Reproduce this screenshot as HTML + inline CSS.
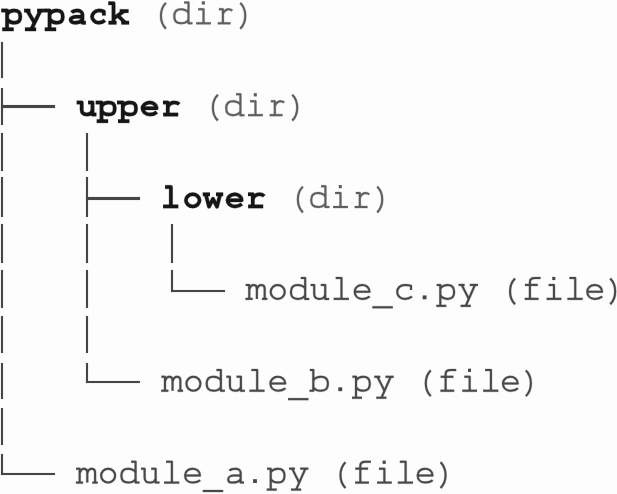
<!DOCTYPE html>
<html><head><meta charset="utf-8"><style>
html,body{margin:0;padding:0;background:#fdfdfd;width:617px;height:494px;overflow:hidden;position:relative}
.r{position:absolute;box-shadow:0 0 1px rgba(64,64,70,0.5)}
svg{position:absolute;left:0;top:0}
.txt{position:absolute;left:0;top:-8px;margin:0;font-family:"Liberation Mono",monospace;font-size:35.42px;line-height:45.93px;color:transparent;white-space:pre}
</style></head><body>
<pre class="txt">pypack (dir)
│
├── upper (dir)
│   │
│   ├── lower (dir)
│   │   │
│   │   └── module_c.py (file)
│   │
│   └── module_b.py (file)
│
└── module_a.py (file)</pre>
<div class="r" style="left:0.80px;top:41.50px;width:2.60px;height:36.70px;background:#46464a"></div>
<div class="r" style="left:0.80px;top:88.20px;width:2.60px;height:36.60px;background:#46464a"></div>
<div class="r" style="left:0.80px;top:105.25px;width:54.00px;height:2.30px;background:#46464a"></div>
<div class="r" style="left:0.80px;top:132.50px;width:2.60px;height:38.10px;background:#46464a"></div>
<div class="r" style="left:0.80px;top:177.40px;width:2.60px;height:39.20px;background:#46464a"></div>
<div class="r" style="left:0.80px;top:224.20px;width:2.60px;height:39.10px;background:#46464a"></div>
<div class="r" style="left:0.80px;top:270.20px;width:2.60px;height:38.10px;background:#46464a"></div>
<div class="r" style="left:0.80px;top:316.40px;width:2.60px;height:36.80px;background:#46464a"></div>
<div class="r" style="left:0.80px;top:362.70px;width:2.60px;height:36.30px;background:#46464a"></div>
<div class="r" style="left:0.80px;top:408.40px;width:2.60px;height:36.30px;background:#46464a"></div>
<div class="r" style="left:0.80px;top:454.20px;width:2.60px;height:21.05px;background:#46464a"></div>
<div class="r" style="left:0.80px;top:472.95px;width:54.00px;height:2.30px;background:#46464a"></div>
<div class="r" style="left:85.60px;top:132.50px;width:2.60px;height:38.10px;background:#46464a"></div>
<div class="r" style="left:85.60px;top:177.40px;width:2.60px;height:39.20px;background:#46464a"></div>
<div class="r" style="left:85.60px;top:197.35px;width:54.00px;height:2.30px;background:#46464a"></div>
<div class="r" style="left:85.60px;top:224.20px;width:2.60px;height:39.10px;background:#46464a"></div>
<div class="r" style="left:85.60px;top:270.20px;width:2.60px;height:38.10px;background:#46464a"></div>
<div class="r" style="left:85.60px;top:316.40px;width:2.60px;height:36.80px;background:#46464a"></div>
<div class="r" style="left:85.60px;top:362.70px;width:2.60px;height:20.35px;background:#46464a"></div>
<div class="r" style="left:85.60px;top:380.75px;width:54.00px;height:2.30px;background:#46464a"></div>
<div class="r" style="left:170.60px;top:224.20px;width:2.60px;height:39.10px;background:#46464a"></div>
<div class="r" style="left:170.60px;top:270.20px;width:2.60px;height:21.65px;background:#46464a"></div>
<div class="r" style="left:170.60px;top:289.55px;width:54.00px;height:2.30px;background:#46464a"></div>
<svg width="617" height="494" viewBox="0 0 617 494" fill="none" stroke-linecap="butt" stroke-linejoin="round">
<g transform="translate(1.68 24.50)" stroke="#161616" stroke-width="4.50" stroke-opacity="0.28" fill-opacity="0.28"><path d="M -0.4 -13.90 H 5.40 V 4.80"/><path d="M 0.60 4.80 H 12.00"/><path d="M 5.40 -10.70 C 7.60 -13.30 10.50 -13.90 12.30 -13.90 C 16.80 -13.90 18.60 -12.35 18.60 -7.85 C 18.60 -3.35 16.80 -1.80 12.30 -1.80 C 10.50 -1.80 7.60 -2.40 5.40 -5.00"/></g>
<g transform="translate(1.68 24.50)" stroke="#161616" stroke-width="3.5"><path d="M -0.4 -13.90 H 5.40 V 4.80"/><path d="M 0.60 4.80 H 12.00"/><path d="M 5.40 -10.70 C 7.60 -13.30 10.50 -13.90 12.30 -13.90 C 16.80 -13.90 18.60 -12.35 18.60 -7.85 C 18.60 -3.35 16.80 -1.80 12.30 -1.80 C 10.50 -1.80 7.60 -2.40 5.40 -5.00"/></g>
<g transform="translate(22.93 24.50)" stroke="#161616" stroke-width="4.50" stroke-opacity="0.28" fill-opacity="0.28"><path d="M 1.2 -13.90 H 7.4"/><path d="M 14.2 -13.90 H 20.9"/><path d="M 4.4 -13.90 L 11.8 -1.40"/><path d="M 17.6 -13.90 L 8.4 4.80"/><path d="M 2.0 4.80 H 13.2"/></g>
<g transform="translate(22.93 24.50)" stroke="#161616" stroke-width="3.5"><path d="M 1.2 -13.90 H 7.4"/><path d="M 14.2 -13.90 H 20.9"/><path d="M 4.4 -13.90 L 11.8 -1.40"/><path d="M 17.6 -13.90 L 8.4 4.80"/><path d="M 2.0 4.80 H 13.2"/></g>
<g transform="translate(44.17 24.50)" stroke="#161616" stroke-width="4.50" stroke-opacity="0.28" fill-opacity="0.28"><path d="M -0.4 -13.90 H 5.40 V 4.80"/><path d="M 0.60 4.80 H 12.00"/><path d="M 5.40 -10.70 C 7.60 -13.30 10.50 -13.90 12.30 -13.90 C 16.80 -13.90 18.60 -12.35 18.60 -7.85 C 18.60 -3.35 16.80 -1.80 12.30 -1.80 C 10.50 -1.80 7.60 -2.40 5.40 -5.00"/></g>
<g transform="translate(44.17 24.50)" stroke="#161616" stroke-width="3.5"><path d="M -0.4 -13.90 H 5.40 V 4.80"/><path d="M 0.60 4.80 H 12.00"/><path d="M 5.40 -10.70 C 7.60 -13.30 10.50 -13.90 12.30 -13.90 C 16.80 -13.90 18.60 -12.35 18.60 -7.85 C 18.60 -3.35 16.80 -1.80 12.30 -1.80 C 10.50 -1.80 7.60 -2.40 5.40 -5.00"/></g>
<g transform="translate(65.42 24.50)" stroke="#161616" stroke-width="4.50" stroke-opacity="0.28" fill-opacity="0.28"><path d="M 6.40 -11.90 C 7.80 -13.60 9.80 -13.90 11.90 -13.90 C 14.60 -13.90 17.00 -12.30 17.00 -9.90 V -1.80 H 20.40"/><path d="M 17.00 -7.80 H 10.20 C 6.80 -7.80 5.20 -5.60 5.20 -5.00 C 5.20 -2.80 7.20 -1.80 9.80 -1.80 C 12.80 -1.80 15.60 -3.20 17.00 -4.60"/></g>
<g transform="translate(65.42 24.50)" stroke="#161616" stroke-width="3.5"><path d="M 6.40 -11.90 C 7.80 -13.60 9.80 -13.90 11.90 -13.90 C 14.60 -13.90 17.00 -12.30 17.00 -9.90 V -1.80 H 20.40"/><path d="M 17.00 -7.80 H 10.20 C 6.80 -7.80 5.20 -5.60 5.20 -5.00 C 5.20 -2.80 7.20 -1.80 9.80 -1.80 C 12.80 -1.80 15.60 -3.20 17.00 -4.60"/></g>
<g transform="translate(86.67 24.50)" stroke="#161616" stroke-width="4.50" stroke-opacity="0.28" fill-opacity="0.28"><path d="M 17.20 -8.90 V -12.90 C 15.60 -13.70 13.80 -13.90 12.00 -13.90 C 8.20 -13.90 5.40 -10.50 5.40 -7.85 C 5.40 -5.20 8.20 -1.80 12.00 -1.80 C 15.00 -1.80 16.80 -3.00 18.20 -4.20"/></g>
<g transform="translate(86.67 24.50)" stroke="#161616" stroke-width="3.5"><path d="M 17.20 -8.90 V -12.90 C 15.60 -13.70 13.80 -13.90 12.00 -13.90 C 8.20 -13.90 5.40 -10.50 5.40 -7.85 C 5.40 -5.20 8.20 -1.80 12.00 -1.80 C 15.00 -1.80 16.80 -3.00 18.20 -4.20"/></g>
<g transform="translate(107.92 24.50)" stroke="#161616" stroke-width="4.50" stroke-opacity="0.28" fill-opacity="0.28"><path d="M 0.4 -21.20 H 5.60 V -1.80"/><path d="M 0.6 -1.80 H 8.60"/><path d="M 5.60 -6.00 L 16.00 -13.40"/><path d="M 11.8 -13.40 H 20.6"/><path d="M 10.40 -8.60 L 17.2 -1.80"/><path d="M 13.4 -1.80 H 21.2"/></g>
<g transform="translate(107.92 24.50)" stroke="#161616" stroke-width="3.5"><path d="M 0.4 -21.20 H 5.60 V -1.80"/><path d="M 0.6 -1.80 H 8.60"/><path d="M 5.60 -6.00 L 16.00 -13.40"/><path d="M 11.8 -13.40 H 20.6"/><path d="M 10.40 -8.60 L 17.2 -1.80"/><path d="M 13.4 -1.80 H 21.2"/></g>
<g transform="translate(150.43 24.50)" stroke="#5e5e5e" stroke-width="3.00" stroke-opacity="0.28" fill-opacity="0.28"><path d="M 15.50 -21.6 C 11.00 -17.2 10.50 -11.9 10.50 -8.7 C 10.50 -5.5 11.00 -0.2 15.50 4.2"/></g>
<g transform="translate(150.43 24.50)" stroke="#5e5e5e" stroke-width="2.0"><path d="M 15.50 -21.6 C 11.00 -17.2 10.50 -11.9 10.50 -8.7 C 10.50 -5.5 11.00 -0.2 15.50 4.2"/></g>
<g transform="translate(171.68 24.50)" stroke="#5e5e5e" stroke-width="3.00" stroke-opacity="0.28" fill-opacity="0.28"><path d="M 12.40 -22.00 H 16.80 V -1.20 H 20.80"/><path d="M 16.80 -11.95 C 14.60 -14.55 11.20 -15.15 9.40 -15.15 C 4.40 -15.15 2.60 -12.68 2.60 -8.18 C 2.60 -3.68 4.40 -1.20 9.40 -1.20 C 11.20 -1.20 14.60 -1.80 16.80 -4.40"/></g>
<g transform="translate(171.68 24.50)" stroke="#5e5e5e" stroke-width="2.0"><path d="M 12.40 -22.00 H 16.80 V -1.20 H 20.80"/><path d="M 16.80 -11.95 C 14.60 -14.55 11.20 -15.15 9.40 -15.15 C 4.40 -15.15 2.60 -12.68 2.60 -8.18 C 2.60 -3.68 4.40 -1.20 9.40 -1.20 C 11.20 -1.20 14.60 -1.80 16.80 -4.40"/></g>
<g transform="translate(192.93 24.50)" stroke="#5e5e5e" stroke-width="3.00" stroke-opacity="0.28" fill-opacity="0.28"><path d="M 5.20 -15.15 H 10.60 V -1.20"/><path d="M 3.20 -1.20 H 18.00"/><path d="M 8.90 -23.20 H 11.90 V -20.00 H 8.90 Z" fill="#5e5e5e" stroke="none"/></g>
<g transform="translate(192.93 24.50)" stroke="#5e5e5e" stroke-width="2.0"><path d="M 5.20 -15.15 H 10.60 V -1.20"/><path d="M 3.20 -1.20 H 18.00"/><path d="M 8.90 -23.20 H 11.90 V -20.00 H 8.90 Z" fill="#5e5e5e" stroke="none"/></g>
<g transform="translate(214.18 24.50)" stroke="#5e5e5e" stroke-width="3.00" stroke-opacity="0.28" fill-opacity="0.28"><path d="M 4.70 -15.15 H 8.70 V -1.20"/><path d="M 3.50 -1.20 H 16.40"/><path d="M 8.70 -10.95 C 10.30 -13.75 12.30 -15.15 14.50 -15.15 C 16.10 -15.15 17.10 -14.65 18.10 -13.75"/></g>
<g transform="translate(214.18 24.50)" stroke="#5e5e5e" stroke-width="2.0"><path d="M 4.70 -15.15 H 8.70 V -1.20"/><path d="M 3.50 -1.20 H 16.40"/><path d="M 8.70 -10.95 C 10.30 -13.75 12.30 -15.15 14.50 -15.15 C 16.10 -15.15 17.10 -14.65 18.10 -13.75"/></g>
<g transform="translate(235.43 24.50)" stroke="#5e5e5e" stroke-width="3.00" stroke-opacity="0.28" fill-opacity="0.28"><path d="M 4.85 -21.6 C 9.35 -17.2 9.85 -11.9 9.85 -8.7 C 9.85 -5.5 9.35 -0.2 4.85 4.2"/></g>
<g transform="translate(235.43 24.50)" stroke="#5e5e5e" stroke-width="2.0"><path d="M 4.85 -21.6 C 9.35 -17.2 9.85 -11.9 9.85 -8.7 C 9.85 -5.5 9.35 -0.2 4.85 4.2"/></g>
<g transform="translate(74.88 116.36)" stroke="#161616" stroke-width="4.50" stroke-opacity="0.28" fill-opacity="0.28"><path d="M 1.80 -13.90 H 6.80 V -6.60 C 6.80 -3.40 8.80 -1.80 12.20 -1.80 C 15.00 -1.80 16.80 -3.20 17.60 -5.40"/><path d="M 13.20 -13.90 H 17.60 V -1.80 H 21.50"/></g>
<g transform="translate(74.88 116.36)" stroke="#161616" stroke-width="3.5"><path d="M 1.80 -13.90 H 6.80 V -6.60 C 6.80 -3.40 8.80 -1.80 12.20 -1.80 C 15.00 -1.80 16.80 -3.20 17.60 -5.40"/><path d="M 13.20 -13.90 H 17.60 V -1.80 H 21.50"/></g>
<g transform="translate(96.12 116.36)" stroke="#161616" stroke-width="4.50" stroke-opacity="0.28" fill-opacity="0.28"><path d="M -0.4 -13.90 H 5.40 V 4.80"/><path d="M 0.60 4.80 H 12.00"/><path d="M 5.40 -10.70 C 7.60 -13.30 10.50 -13.90 12.30 -13.90 C 16.80 -13.90 18.60 -12.35 18.60 -7.85 C 18.60 -3.35 16.80 -1.80 12.30 -1.80 C 10.50 -1.80 7.60 -2.40 5.40 -5.00"/></g>
<g transform="translate(96.12 116.36)" stroke="#161616" stroke-width="3.5"><path d="M -0.4 -13.90 H 5.40 V 4.80"/><path d="M 0.60 4.80 H 12.00"/><path d="M 5.40 -10.70 C 7.60 -13.30 10.50 -13.90 12.30 -13.90 C 16.80 -13.90 18.60 -12.35 18.60 -7.85 C 18.60 -3.35 16.80 -1.80 12.30 -1.80 C 10.50 -1.80 7.60 -2.40 5.40 -5.00"/></g>
<g transform="translate(117.38 116.36)" stroke="#161616" stroke-width="4.50" stroke-opacity="0.28" fill-opacity="0.28"><path d="M -0.4 -13.90 H 5.40 V 4.80"/><path d="M 0.60 4.80 H 12.00"/><path d="M 5.40 -10.70 C 7.60 -13.30 10.50 -13.90 12.30 -13.90 C 16.80 -13.90 18.60 -12.35 18.60 -7.85 C 18.60 -3.35 16.80 -1.80 12.30 -1.80 C 10.50 -1.80 7.60 -2.40 5.40 -5.00"/></g>
<g transform="translate(117.38 116.36)" stroke="#161616" stroke-width="3.5"><path d="M -0.4 -13.90 H 5.40 V 4.80"/><path d="M 0.60 4.80 H 12.00"/><path d="M 5.40 -10.70 C 7.60 -13.30 10.50 -13.90 12.30 -13.90 C 16.80 -13.90 18.60 -12.35 18.60 -7.85 C 18.60 -3.35 16.80 -1.80 12.30 -1.80 C 10.50 -1.80 7.60 -2.40 5.40 -5.00"/></g>
<g transform="translate(138.62 116.36)" stroke="#161616" stroke-width="4.50" stroke-opacity="0.28" fill-opacity="0.28"><path d="M 3.90 -8.00 H 18.00 C 18.00 -11.70 14.45 -13.90 10.95 -13.90 C 6.50 -13.90 3.90 -10.40 3.90 -8.00 C 3.90 -5.00 6.70 -1.80 11.35 -1.80 C 14.55 -1.80 16.80 -3.00 18.20 -4.20"/></g>
<g transform="translate(138.62 116.36)" stroke="#161616" stroke-width="3.5"><path d="M 3.90 -8.00 H 18.00 C 18.00 -11.70 14.45 -13.90 10.95 -13.90 C 6.50 -13.90 3.90 -10.40 3.90 -8.00 C 3.90 -5.00 6.70 -1.80 11.35 -1.80 C 14.55 -1.80 16.80 -3.00 18.20 -4.20"/></g>
<g transform="translate(159.88 116.36)" stroke="#161616" stroke-width="4.50" stroke-opacity="0.28" fill-opacity="0.28"><path d="M 3.10 -13.90 H 7.90 V -1.80"/><path d="M 3.30 -1.80 H 18.30"/><path d="M 7.90 -9.70 C 9.50 -12.50 11.90 -13.90 14.30 -13.90 C 16.50 -13.90 18.10 -13.30 19.30 -12.10"/></g>
<g transform="translate(159.88 116.36)" stroke="#161616" stroke-width="3.5"><path d="M 3.10 -13.90 H 7.90 V -1.80"/><path d="M 3.30 -1.80 H 18.30"/><path d="M 7.90 -9.70 C 9.50 -12.50 11.90 -13.90 14.30 -13.90 C 16.50 -13.90 18.10 -13.30 19.30 -12.10"/></g>
<g transform="translate(202.38 116.36)" stroke="#5e5e5e" stroke-width="3.00" stroke-opacity="0.28" fill-opacity="0.28"><path d="M 15.50 -21.6 C 11.00 -17.2 10.50 -11.9 10.50 -8.7 C 10.50 -5.5 11.00 -0.2 15.50 4.2"/></g>
<g transform="translate(202.38 116.36)" stroke="#5e5e5e" stroke-width="2.0"><path d="M 15.50 -21.6 C 11.00 -17.2 10.50 -11.9 10.50 -8.7 C 10.50 -5.5 11.00 -0.2 15.50 4.2"/></g>
<g transform="translate(223.62 116.36)" stroke="#5e5e5e" stroke-width="3.00" stroke-opacity="0.28" fill-opacity="0.28"><path d="M 12.40 -22.00 H 16.80 V -1.20 H 20.80"/><path d="M 16.80 -11.95 C 14.60 -14.55 11.20 -15.15 9.40 -15.15 C 4.40 -15.15 2.60 -12.68 2.60 -8.18 C 2.60 -3.68 4.40 -1.20 9.40 -1.20 C 11.20 -1.20 14.60 -1.80 16.80 -4.40"/></g>
<g transform="translate(223.62 116.36)" stroke="#5e5e5e" stroke-width="2.0"><path d="M 12.40 -22.00 H 16.80 V -1.20 H 20.80"/><path d="M 16.80 -11.95 C 14.60 -14.55 11.20 -15.15 9.40 -15.15 C 4.40 -15.15 2.60 -12.68 2.60 -8.18 C 2.60 -3.68 4.40 -1.20 9.40 -1.20 C 11.20 -1.20 14.60 -1.80 16.80 -4.40"/></g>
<g transform="translate(244.88 116.36)" stroke="#5e5e5e" stroke-width="3.00" stroke-opacity="0.28" fill-opacity="0.28"><path d="M 5.20 -15.15 H 10.60 V -1.20"/><path d="M 3.20 -1.20 H 18.00"/><path d="M 8.90 -23.20 H 11.90 V -20.00 H 8.90 Z" fill="#5e5e5e" stroke="none"/></g>
<g transform="translate(244.88 116.36)" stroke="#5e5e5e" stroke-width="2.0"><path d="M 5.20 -15.15 H 10.60 V -1.20"/><path d="M 3.20 -1.20 H 18.00"/><path d="M 8.90 -23.20 H 11.90 V -20.00 H 8.90 Z" fill="#5e5e5e" stroke="none"/></g>
<g transform="translate(266.12 116.36)" stroke="#5e5e5e" stroke-width="3.00" stroke-opacity="0.28" fill-opacity="0.28"><path d="M 4.70 -15.15 H 8.70 V -1.20"/><path d="M 3.50 -1.20 H 16.40"/><path d="M 8.70 -10.95 C 10.30 -13.75 12.30 -15.15 14.50 -15.15 C 16.10 -15.15 17.10 -14.65 18.10 -13.75"/></g>
<g transform="translate(266.12 116.36)" stroke="#5e5e5e" stroke-width="2.0"><path d="M 4.70 -15.15 H 8.70 V -1.20"/><path d="M 3.50 -1.20 H 16.40"/><path d="M 8.70 -10.95 C 10.30 -13.75 12.30 -15.15 14.50 -15.15 C 16.10 -15.15 17.10 -14.65 18.10 -13.75"/></g>
<g transform="translate(287.38 116.36)" stroke="#5e5e5e" stroke-width="3.00" stroke-opacity="0.28" fill-opacity="0.28"><path d="M 4.85 -21.6 C 9.35 -17.2 9.85 -11.9 9.85 -8.7 C 9.85 -5.5 9.35 -0.2 4.85 4.2"/></g>
<g transform="translate(287.38 116.36)" stroke="#5e5e5e" stroke-width="2.0"><path d="M 4.85 -21.6 C 9.35 -17.2 9.85 -11.9 9.85 -8.7 C 9.85 -5.5 9.35 -0.2 4.85 4.2"/></g>
<g transform="translate(159.88 208.22)" stroke="#161616" stroke-width="4.50" stroke-opacity="0.28" fill-opacity="0.28"><path d="M 5.20 -21.20 H 11.00 V -1.80"/><path d="M 3.20 -1.80 H 18.40"/></g>
<g transform="translate(159.88 208.22)" stroke="#161616" stroke-width="3.5"><path d="M 5.20 -21.20 H 11.00 V -1.80"/><path d="M 3.20 -1.80 H 18.40"/></g>
<g transform="translate(181.12 208.22)" stroke="#161616" stroke-width="4.50" stroke-opacity="0.28" fill-opacity="0.28"><path d="M 18.40 -7.85 C 18.40 -4.51 15.36 -1.80 11.60 -1.80 C 7.84 -1.80 4.80 -4.51 4.80 -7.85 C 4.80 -11.19 7.84 -13.90 11.60 -13.90 C 15.36 -13.90 18.40 -11.19 18.40 -7.85 Z"/></g>
<g transform="translate(181.12 208.22)" stroke="#161616" stroke-width="3.5"><path d="M 18.40 -7.85 C 18.40 -4.51 15.36 -1.80 11.60 -1.80 C 7.84 -1.80 4.80 -4.51 4.80 -7.85 C 4.80 -11.19 7.84 -13.90 11.60 -13.90 C 15.36 -13.90 18.40 -11.19 18.40 -7.85 Z"/></g>
<g transform="translate(202.38 208.22)" stroke="#161616" stroke-width="4.50" stroke-opacity="0.28" fill-opacity="0.28"><path d="M 0.4 -13.90 H 7.6"/><path d="M 13.6 -13.90 H 20.8"/><path d="M 3.4 -13.90 L 6.6 -1.60 L 10.6 -9.30 L 14.6 -1.60 L 17.8 -13.90"/></g>
<g transform="translate(202.38 208.22)" stroke="#161616" stroke-width="3.5"><path d="M 0.4 -13.90 H 7.6"/><path d="M 13.6 -13.90 H 20.8"/><path d="M 3.4 -13.90 L 6.6 -1.60 L 10.6 -9.30 L 14.6 -1.60 L 17.8 -13.90"/></g>
<g transform="translate(223.62 208.22)" stroke="#161616" stroke-width="4.50" stroke-opacity="0.28" fill-opacity="0.28"><path d="M 3.90 -8.00 H 18.00 C 18.00 -11.70 14.45 -13.90 10.95 -13.90 C 6.50 -13.90 3.90 -10.40 3.90 -8.00 C 3.90 -5.00 6.70 -1.80 11.35 -1.80 C 14.55 -1.80 16.80 -3.00 18.20 -4.20"/></g>
<g transform="translate(223.62 208.22)" stroke="#161616" stroke-width="3.5"><path d="M 3.90 -8.00 H 18.00 C 18.00 -11.70 14.45 -13.90 10.95 -13.90 C 6.50 -13.90 3.90 -10.40 3.90 -8.00 C 3.90 -5.00 6.70 -1.80 11.35 -1.80 C 14.55 -1.80 16.80 -3.00 18.20 -4.20"/></g>
<g transform="translate(244.88 208.22)" stroke="#161616" stroke-width="4.50" stroke-opacity="0.28" fill-opacity="0.28"><path d="M 3.10 -13.90 H 7.90 V -1.80"/><path d="M 3.30 -1.80 H 18.30"/><path d="M 7.90 -9.70 C 9.50 -12.50 11.90 -13.90 14.30 -13.90 C 16.50 -13.90 18.10 -13.30 19.30 -12.10"/></g>
<g transform="translate(244.88 208.22)" stroke="#161616" stroke-width="3.5"><path d="M 3.10 -13.90 H 7.90 V -1.80"/><path d="M 3.30 -1.80 H 18.30"/><path d="M 7.90 -9.70 C 9.50 -12.50 11.90 -13.90 14.30 -13.90 C 16.50 -13.90 18.10 -13.30 19.30 -12.10"/></g>
<g transform="translate(287.38 208.22)" stroke="#5e5e5e" stroke-width="3.00" stroke-opacity="0.28" fill-opacity="0.28"><path d="M 15.50 -21.6 C 11.00 -17.2 10.50 -11.9 10.50 -8.7 C 10.50 -5.5 11.00 -0.2 15.50 4.2"/></g>
<g transform="translate(287.38 208.22)" stroke="#5e5e5e" stroke-width="2.0"><path d="M 15.50 -21.6 C 11.00 -17.2 10.50 -11.9 10.50 -8.7 C 10.50 -5.5 11.00 -0.2 15.50 4.2"/></g>
<g transform="translate(308.62 208.22)" stroke="#5e5e5e" stroke-width="3.00" stroke-opacity="0.28" fill-opacity="0.28"><path d="M 12.40 -22.00 H 16.80 V -1.20 H 20.80"/><path d="M 16.80 -11.95 C 14.60 -14.55 11.20 -15.15 9.40 -15.15 C 4.40 -15.15 2.60 -12.68 2.60 -8.18 C 2.60 -3.68 4.40 -1.20 9.40 -1.20 C 11.20 -1.20 14.60 -1.80 16.80 -4.40"/></g>
<g transform="translate(308.62 208.22)" stroke="#5e5e5e" stroke-width="2.0"><path d="M 12.40 -22.00 H 16.80 V -1.20 H 20.80"/><path d="M 16.80 -11.95 C 14.60 -14.55 11.20 -15.15 9.40 -15.15 C 4.40 -15.15 2.60 -12.68 2.60 -8.18 C 2.60 -3.68 4.40 -1.20 9.40 -1.20 C 11.20 -1.20 14.60 -1.80 16.80 -4.40"/></g>
<g transform="translate(329.88 208.22)" stroke="#5e5e5e" stroke-width="3.00" stroke-opacity="0.28" fill-opacity="0.28"><path d="M 5.20 -15.15 H 10.60 V -1.20"/><path d="M 3.20 -1.20 H 18.00"/><path d="M 8.90 -23.20 H 11.90 V -20.00 H 8.90 Z" fill="#5e5e5e" stroke="none"/></g>
<g transform="translate(329.88 208.22)" stroke="#5e5e5e" stroke-width="2.0"><path d="M 5.20 -15.15 H 10.60 V -1.20"/><path d="M 3.20 -1.20 H 18.00"/><path d="M 8.90 -23.20 H 11.90 V -20.00 H 8.90 Z" fill="#5e5e5e" stroke="none"/></g>
<g transform="translate(351.12 208.22)" stroke="#5e5e5e" stroke-width="3.00" stroke-opacity="0.28" fill-opacity="0.28"><path d="M 4.70 -15.15 H 8.70 V -1.20"/><path d="M 3.50 -1.20 H 16.40"/><path d="M 8.70 -10.95 C 10.30 -13.75 12.30 -15.15 14.50 -15.15 C 16.10 -15.15 17.10 -14.65 18.10 -13.75"/></g>
<g transform="translate(351.12 208.22)" stroke="#5e5e5e" stroke-width="2.0"><path d="M 4.70 -15.15 H 8.70 V -1.20"/><path d="M 3.50 -1.20 H 16.40"/><path d="M 8.70 -10.95 C 10.30 -13.75 12.30 -15.15 14.50 -15.15 C 16.10 -15.15 17.10 -14.65 18.10 -13.75"/></g>
<g transform="translate(372.38 208.22)" stroke="#5e5e5e" stroke-width="3.00" stroke-opacity="0.28" fill-opacity="0.28"><path d="M 4.85 -21.6 C 9.35 -17.2 9.85 -11.9 9.85 -8.7 C 9.85 -5.5 9.35 -0.2 4.85 4.2"/></g>
<g transform="translate(372.38 208.22)" stroke="#5e5e5e" stroke-width="2.0"><path d="M 4.85 -21.6 C 9.35 -17.2 9.85 -11.9 9.85 -8.7 C 9.85 -5.5 9.35 -0.2 4.85 4.2"/></g>
<g transform="translate(245.88 300.08)" stroke="#484848" stroke-width="3.00" stroke-opacity="0.28" fill-opacity="0.28"><path d="M -0.2 -15.15 H 3.40 V -1.20"/><path d="M 3.40 -11.15 C 4.60 -13.95 6.00 -15.15 7.50 -15.15 C 9.70 -15.15 11.00 -13.95 11.00 -11.65 V -1.20"/><path d="M 11.00 -11.15 C 12.20 -13.95 13.60 -15.15 15.20 -15.15 C 17.50 -15.15 18.80 -13.95 18.80 -11.65 V -1.20"/><path d="M -0.4 -1.20 H 6.80"/><path d="M 16.00 -1.20 H 21.50"/></g>
<g transform="translate(245.88 300.08)" stroke="#484848" stroke-width="2.0"><path d="M -0.2 -15.15 H 3.40 V -1.20"/><path d="M 3.40 -11.15 C 4.60 -13.95 6.00 -15.15 7.50 -15.15 C 9.70 -15.15 11.00 -13.95 11.00 -11.65 V -1.20"/><path d="M 11.00 -11.15 C 12.20 -13.95 13.60 -15.15 15.20 -15.15 C 17.50 -15.15 18.80 -13.95 18.80 -11.65 V -1.20"/><path d="M -0.4 -1.20 H 6.80"/><path d="M 16.00 -1.20 H 21.50"/></g>
<g transform="translate(267.12 300.08)" stroke="#484848" stroke-width="3.00" stroke-opacity="0.28" fill-opacity="0.28"><path d="M 17.60 -8.18 C 17.60 -4.32 14.47 -1.20 10.60 -1.20 C 6.73 -1.20 3.60 -4.32 3.60 -8.18 C 3.60 -12.03 6.73 -15.15 10.60 -15.15 C 14.47 -15.15 17.60 -12.03 17.60 -8.18 Z"/></g>
<g transform="translate(267.12 300.08)" stroke="#484848" stroke-width="2.0"><path d="M 17.60 -8.18 C 17.60 -4.32 14.47 -1.20 10.60 -1.20 C 6.73 -1.20 3.60 -4.32 3.60 -8.18 C 3.60 -12.03 6.73 -15.15 10.60 -15.15 C 14.47 -15.15 17.60 -12.03 17.60 -8.18 Z"/></g>
<g transform="translate(288.38 300.08)" stroke="#484848" stroke-width="3.00" stroke-opacity="0.28" fill-opacity="0.28"><path d="M 12.40 -22.00 H 16.80 V -1.20 H 20.80"/><path d="M 16.80 -11.95 C 14.60 -14.55 11.20 -15.15 9.40 -15.15 C 4.40 -15.15 2.60 -12.68 2.60 -8.18 C 2.60 -3.68 4.40 -1.20 9.40 -1.20 C 11.20 -1.20 14.60 -1.80 16.80 -4.40"/></g>
<g transform="translate(288.38 300.08)" stroke="#484848" stroke-width="2.0"><path d="M 12.40 -22.00 H 16.80 V -1.20 H 20.80"/><path d="M 16.80 -11.95 C 14.60 -14.55 11.20 -15.15 9.40 -15.15 C 4.40 -15.15 2.60 -12.68 2.60 -8.18 C 2.60 -3.68 4.40 -1.20 9.40 -1.20 C 11.20 -1.20 14.60 -1.80 16.80 -4.40"/></g>
<g transform="translate(309.62 300.08)" stroke="#484848" stroke-width="3.00" stroke-opacity="0.28" fill-opacity="0.28"><path d="M 1.00 -15.15 H 4.60 V -6.00 C 4.60 -2.80 6.60 -1.20 10.10 -1.20 C 12.90 -1.20 14.80 -2.60 15.60 -4.80"/><path d="M 11.20 -15.15 H 15.60 V -1.20 H 19.50"/></g>
<g transform="translate(309.62 300.08)" stroke="#484848" stroke-width="2.0"><path d="M 1.00 -15.15 H 4.60 V -6.00 C 4.60 -2.80 6.60 -1.20 10.10 -1.20 C 12.90 -1.20 14.80 -2.60 15.60 -4.80"/><path d="M 11.20 -15.15 H 15.60 V -1.20 H 19.50"/></g>
<g transform="translate(330.88 300.08)" stroke="#484848" stroke-width="3.00" stroke-opacity="0.28" fill-opacity="0.28"><path d="M 4.80 -22.00 H 10.60 V -1.20"/><path d="M 2.80 -1.20 H 18.00"/></g>
<g transform="translate(330.88 300.08)" stroke="#484848" stroke-width="2.0"><path d="M 4.80 -22.00 H 10.60 V -1.20"/><path d="M 2.80 -1.20 H 18.00"/></g>
<g transform="translate(352.12 300.08)" stroke="#484848" stroke-width="3.00" stroke-opacity="0.28" fill-opacity="0.28"><path d="M 2.60 -8.40 H 17.40 C 17.40 -12.95 13.50 -15.15 10.00 -15.15 C 5.20 -15.15 2.60 -11.65 2.60 -8.40 C 2.60 -4.40 5.40 -1.20 10.40 -1.20 C 13.60 -1.20 16.20 -2.40 17.60 -3.60"/></g>
<g transform="translate(352.12 300.08)" stroke="#484848" stroke-width="2.0"><path d="M 2.60 -8.40 H 17.40 C 17.40 -12.95 13.50 -15.15 10.00 -15.15 C 5.20 -15.15 2.60 -11.65 2.60 -8.40 C 2.60 -4.40 5.40 -1.20 10.40 -1.20 C 13.60 -1.20 16.20 -2.40 17.60 -3.60"/></g>
<g transform="translate(373.38 300.08)" stroke="#484848" stroke-width="3.00" stroke-opacity="0.28" fill-opacity="0.28"><path d="M -1.0 7.2 H 19.4"/></g>
<g transform="translate(373.38 300.08)" stroke="#484848" stroke-width="2.0"><path d="M -1.0 7.2 H 19.4"/></g>
<g transform="translate(394.62 300.08)" stroke="#484848" stroke-width="3.00" stroke-opacity="0.28" fill-opacity="0.28"><path d="M 16.40 -10.15 V -14.15 C 14.80 -14.95 12.00 -15.15 10.20 -15.15 C 5.40 -15.15 2.60 -11.75 2.60 -8.18 C 2.60 -4.60 5.40 -1.20 10.20 -1.20 C 13.20 -1.20 16.00 -2.40 17.40 -3.60"/></g>
<g transform="translate(394.62 300.08)" stroke="#484848" stroke-width="2.0"><path d="M 16.40 -10.15 V -14.15 C 14.80 -14.95 12.00 -15.15 10.20 -15.15 C 5.40 -15.15 2.60 -11.75 2.60 -8.18 C 2.60 -4.60 5.40 -1.20 10.20 -1.20 C 13.20 -1.20 16.00 -2.40 17.40 -3.60"/></g>
<g transform="translate(415.88 300.08)" stroke="#484848" stroke-width="3.00" stroke-opacity="0.28" fill-opacity="0.28"><path d="M 6.8 -4.6 H 10.6 V -0.8 H 6.8 Z" fill="#484848" stroke="none"/></g>
<g transform="translate(415.88 300.08)" stroke="#484848" stroke-width="2.0"><path d="M 6.8 -4.6 H 10.6 V -0.8 H 6.8 Z" fill="#484848" stroke="none"/></g>
<g transform="translate(437.12 300.08)" stroke="#484848" stroke-width="3.00" stroke-opacity="0.28" fill-opacity="0.28"><path d="M -0.4 -15.15 H 3.20 V 5.80"/><path d="M -0.80 5.80 H 9.20"/><path d="M 3.20 -11.95 C 5.40 -14.55 8.60 -15.15 10.40 -15.15 C 15.20 -15.15 17.00 -12.68 17.00 -8.18 C 17.00 -3.68 15.20 -1.20 10.40 -1.20 C 8.60 -1.20 5.40 -1.80 3.20 -4.40"/></g>
<g transform="translate(437.12 300.08)" stroke="#484848" stroke-width="2.0"><path d="M -0.4 -15.15 H 3.20 V 5.80"/><path d="M -0.80 5.80 H 9.20"/><path d="M 3.20 -11.95 C 5.40 -14.55 8.60 -15.15 10.40 -15.15 C 15.20 -15.15 17.00 -12.68 17.00 -8.18 C 17.00 -3.68 15.20 -1.20 10.40 -1.20 C 8.60 -1.20 5.40 -1.80 3.20 -4.40"/></g>
<g transform="translate(458.38 300.08)" stroke="#484848" stroke-width="3.00" stroke-opacity="0.28" fill-opacity="0.28"><path d="M 0.2 -15.15 H 6.2"/><path d="M 11.4 -15.15 H 19.6"/><path d="M 3.4 -15.15 L 10.6 -0.80"/><path d="M 16.6 -15.15 L 7.4 5.80"/><path d="M 2.2 5.80 H 12.4"/></g>
<g transform="translate(458.38 300.08)" stroke="#484848" stroke-width="2.0"><path d="M 0.2 -15.15 H 6.2"/><path d="M 11.4 -15.15 H 19.6"/><path d="M 3.4 -15.15 L 10.6 -0.80"/><path d="M 16.6 -15.15 L 7.4 5.80"/><path d="M 2.2 5.80 H 12.4"/></g>
<g transform="translate(499.57 300.08)" stroke="#484848" stroke-width="3.00" stroke-opacity="0.28" fill-opacity="0.28"><path d="M 15.50 -21.6 C 11.00 -17.2 10.50 -11.9 10.50 -8.7 C 10.50 -5.5 11.00 -0.2 15.50 4.2"/></g>
<g transform="translate(499.57 300.08)" stroke="#484848" stroke-width="2.0"><path d="M 15.50 -21.6 C 11.00 -17.2 10.50 -11.9 10.50 -8.7 C 10.50 -5.5 11.00 -0.2 15.50 4.2"/></g>
<g transform="translate(522.12 300.08)" stroke="#484848" stroke-width="3.00" stroke-opacity="0.28" fill-opacity="0.28"><path d="M 7.80 -1.20 V -18.00 C 7.80 -20.80 9.80 -22.00 12.80 -22.00 H 18.40"/><path d="M 2.80 -15.15 H 15.60"/><path d="M 2.60 -1.20 H 16.40"/></g>
<g transform="translate(522.12 300.08)" stroke="#484848" stroke-width="2.0"><path d="M 7.80 -1.20 V -18.00 C 7.80 -20.80 9.80 -22.00 12.80 -22.00 H 18.40"/><path d="M 2.80 -15.15 H 15.60"/><path d="M 2.60 -1.20 H 16.40"/></g>
<g transform="translate(543.38 300.08)" stroke="#484848" stroke-width="3.00" stroke-opacity="0.28" fill-opacity="0.28"><path d="M 5.20 -15.15 H 10.60 V -1.20"/><path d="M 3.20 -1.20 H 18.00"/><path d="M 8.90 -23.20 H 11.90 V -20.00 H 8.90 Z" fill="#484848" stroke="none"/></g>
<g transform="translate(543.38 300.08)" stroke="#484848" stroke-width="2.0"><path d="M 5.20 -15.15 H 10.60 V -1.20"/><path d="M 3.20 -1.20 H 18.00"/><path d="M 8.90 -23.20 H 11.90 V -20.00 H 8.90 Z" fill="#484848" stroke="none"/></g>
<g transform="translate(564.62 300.08)" stroke="#484848" stroke-width="3.00" stroke-opacity="0.28" fill-opacity="0.28"><path d="M 4.80 -22.00 H 10.60 V -1.20"/><path d="M 2.80 -1.20 H 18.00"/></g>
<g transform="translate(564.62 300.08)" stroke="#484848" stroke-width="2.0"><path d="M 4.80 -22.00 H 10.60 V -1.20"/><path d="M 2.80 -1.20 H 18.00"/></g>
<g transform="translate(584.67 300.08)" stroke="#484848" stroke-width="3.00" stroke-opacity="0.28" fill-opacity="0.28"><path d="M 2.60 -8.40 H 17.40 C 17.40 -12.95 13.50 -15.15 10.00 -15.15 C 5.20 -15.15 2.60 -11.65 2.60 -8.40 C 2.60 -4.40 5.40 -1.20 10.40 -1.20 C 13.60 -1.20 16.20 -2.40 17.60 -3.60"/></g>
<g transform="translate(584.67 300.08)" stroke="#484848" stroke-width="2.0"><path d="M 2.60 -8.40 H 17.40 C 17.40 -12.95 13.50 -15.15 10.00 -15.15 C 5.20 -15.15 2.60 -11.65 2.60 -8.40 C 2.60 -4.40 5.40 -1.20 10.40 -1.20 C 13.60 -1.20 16.20 -2.40 17.60 -3.60"/></g>
<g transform="translate(605.33 300.08)" stroke="#484848" stroke-width="3.00" stroke-opacity="0.28" fill-opacity="0.28"><path d="M 4.85 -21.6 C 9.35 -17.2 9.85 -11.9 9.85 -8.7 C 9.85 -5.5 9.35 -0.2 4.85 4.2"/></g>
<g transform="translate(605.33 300.08)" stroke="#484848" stroke-width="2.0"><path d="M 4.85 -21.6 C 9.35 -17.2 9.85 -11.9 9.85 -8.7 C 9.85 -5.5 9.35 -0.2 4.85 4.2"/></g>
<g transform="translate(161.57 391.94)" stroke="#484848" stroke-width="3.00" stroke-opacity="0.28" fill-opacity="0.28"><path d="M -0.2 -15.15 H 3.40 V -1.20"/><path d="M 3.40 -11.15 C 4.60 -13.95 6.00 -15.15 7.50 -15.15 C 9.70 -15.15 11.00 -13.95 11.00 -11.65 V -1.20"/><path d="M 11.00 -11.15 C 12.20 -13.95 13.60 -15.15 15.20 -15.15 C 17.50 -15.15 18.80 -13.95 18.80 -11.65 V -1.20"/><path d="M -0.4 -1.20 H 6.80"/><path d="M 16.00 -1.20 H 21.50"/></g>
<g transform="translate(161.57 391.94)" stroke="#484848" stroke-width="2.0"><path d="M -0.2 -15.15 H 3.40 V -1.20"/><path d="M 3.40 -11.15 C 4.60 -13.95 6.00 -15.15 7.50 -15.15 C 9.70 -15.15 11.00 -13.95 11.00 -11.65 V -1.20"/><path d="M 11.00 -11.15 C 12.20 -13.95 13.60 -15.15 15.20 -15.15 C 17.50 -15.15 18.80 -13.95 18.80 -11.65 V -1.20"/><path d="M -0.4 -1.20 H 6.80"/><path d="M 16.00 -1.20 H 21.50"/></g>
<g transform="translate(182.82 391.94)" stroke="#484848" stroke-width="3.00" stroke-opacity="0.28" fill-opacity="0.28"><path d="M 17.60 -8.18 C 17.60 -4.32 14.47 -1.20 10.60 -1.20 C 6.73 -1.20 3.60 -4.32 3.60 -8.18 C 3.60 -12.03 6.73 -15.15 10.60 -15.15 C 14.47 -15.15 17.60 -12.03 17.60 -8.18 Z"/></g>
<g transform="translate(182.82 391.94)" stroke="#484848" stroke-width="2.0"><path d="M 17.60 -8.18 C 17.60 -4.32 14.47 -1.20 10.60 -1.20 C 6.73 -1.20 3.60 -4.32 3.60 -8.18 C 3.60 -12.03 6.73 -15.15 10.60 -15.15 C 14.47 -15.15 17.60 -12.03 17.60 -8.18 Z"/></g>
<g transform="translate(204.07 391.94)" stroke="#484848" stroke-width="3.00" stroke-opacity="0.28" fill-opacity="0.28"><path d="M 12.40 -22.00 H 16.80 V -1.20 H 20.80"/><path d="M 16.80 -11.95 C 14.60 -14.55 11.20 -15.15 9.40 -15.15 C 4.40 -15.15 2.60 -12.68 2.60 -8.18 C 2.60 -3.68 4.40 -1.20 9.40 -1.20 C 11.20 -1.20 14.60 -1.80 16.80 -4.40"/></g>
<g transform="translate(204.07 391.94)" stroke="#484848" stroke-width="2.0"><path d="M 12.40 -22.00 H 16.80 V -1.20 H 20.80"/><path d="M 16.80 -11.95 C 14.60 -14.55 11.20 -15.15 9.40 -15.15 C 4.40 -15.15 2.60 -12.68 2.60 -8.18 C 2.60 -3.68 4.40 -1.20 9.40 -1.20 C 11.20 -1.20 14.60 -1.80 16.80 -4.40"/></g>
<g transform="translate(225.32 391.94)" stroke="#484848" stroke-width="3.00" stroke-opacity="0.28" fill-opacity="0.28"><path d="M 1.00 -15.15 H 4.60 V -6.00 C 4.60 -2.80 6.60 -1.20 10.10 -1.20 C 12.90 -1.20 14.80 -2.60 15.60 -4.80"/><path d="M 11.20 -15.15 H 15.60 V -1.20 H 19.50"/></g>
<g transform="translate(225.32 391.94)" stroke="#484848" stroke-width="2.0"><path d="M 1.00 -15.15 H 4.60 V -6.00 C 4.60 -2.80 6.60 -1.20 10.10 -1.20 C 12.90 -1.20 14.80 -2.60 15.60 -4.80"/><path d="M 11.20 -15.15 H 15.60 V -1.20 H 19.50"/></g>
<g transform="translate(246.57 391.94)" stroke="#484848" stroke-width="3.00" stroke-opacity="0.28" fill-opacity="0.28"><path d="M 4.80 -22.00 H 10.60 V -1.20"/><path d="M 2.80 -1.20 H 18.00"/></g>
<g transform="translate(246.57 391.94)" stroke="#484848" stroke-width="2.0"><path d="M 4.80 -22.00 H 10.60 V -1.20"/><path d="M 2.80 -1.20 H 18.00"/></g>
<g transform="translate(267.82 391.94)" stroke="#484848" stroke-width="3.00" stroke-opacity="0.28" fill-opacity="0.28"><path d="M 2.60 -8.40 H 17.40 C 17.40 -12.95 13.50 -15.15 10.00 -15.15 C 5.20 -15.15 2.60 -11.65 2.60 -8.40 C 2.60 -4.40 5.40 -1.20 10.40 -1.20 C 13.60 -1.20 16.20 -2.40 17.60 -3.60"/></g>
<g transform="translate(267.82 391.94)" stroke="#484848" stroke-width="2.0"><path d="M 2.60 -8.40 H 17.40 C 17.40 -12.95 13.50 -15.15 10.00 -15.15 C 5.20 -15.15 2.60 -11.65 2.60 -8.40 C 2.60 -4.40 5.40 -1.20 10.40 -1.20 C 13.60 -1.20 16.20 -2.40 17.60 -3.60"/></g>
<g transform="translate(289.07 391.94)" stroke="#484848" stroke-width="3.00" stroke-opacity="0.28" fill-opacity="0.28"><path d="M -1.0 7.2 H 19.4"/></g>
<g transform="translate(289.07 391.94)" stroke="#484848" stroke-width="2.0"><path d="M -1.0 7.2 H 19.4"/></g>
<g transform="translate(310.32 391.94)" stroke="#484848" stroke-width="3.00" stroke-opacity="0.28" fill-opacity="0.28"><path d="M -0.5 -22.00 H 3.00 V -1.20 H -0.8"/><path d="M 3.00 -11.95 C 5.20 -14.55 8.80 -15.15 10.60 -15.15 C 15.80 -15.15 17.60 -12.68 17.60 -8.18 C 17.60 -3.68 15.80 -1.20 10.60 -1.20 C 8.80 -1.20 5.20 -1.80 3.00 -4.40"/></g>
<g transform="translate(310.32 391.94)" stroke="#484848" stroke-width="2.0"><path d="M -0.5 -22.00 H 3.00 V -1.20 H -0.8"/><path d="M 3.00 -11.95 C 5.20 -14.55 8.80 -15.15 10.60 -15.15 C 15.80 -15.15 17.60 -12.68 17.60 -8.18 C 17.60 -3.68 15.80 -1.20 10.60 -1.20 C 8.80 -1.20 5.20 -1.80 3.00 -4.40"/></g>
<g transform="translate(331.57 391.94)" stroke="#484848" stroke-width="3.00" stroke-opacity="0.28" fill-opacity="0.28"><path d="M 6.8 -4.6 H 10.6 V -0.8 H 6.8 Z" fill="#484848" stroke="none"/></g>
<g transform="translate(331.57 391.94)" stroke="#484848" stroke-width="2.0"><path d="M 6.8 -4.6 H 10.6 V -0.8 H 6.8 Z" fill="#484848" stroke="none"/></g>
<g transform="translate(352.82 391.94)" stroke="#484848" stroke-width="3.00" stroke-opacity="0.28" fill-opacity="0.28"><path d="M -0.4 -15.15 H 3.20 V 5.80"/><path d="M -0.80 5.80 H 9.20"/><path d="M 3.20 -11.95 C 5.40 -14.55 8.60 -15.15 10.40 -15.15 C 15.20 -15.15 17.00 -12.68 17.00 -8.18 C 17.00 -3.68 15.20 -1.20 10.40 -1.20 C 8.60 -1.20 5.40 -1.80 3.20 -4.40"/></g>
<g transform="translate(352.82 391.94)" stroke="#484848" stroke-width="2.0"><path d="M -0.4 -15.15 H 3.20 V 5.80"/><path d="M -0.80 5.80 H 9.20"/><path d="M 3.20 -11.95 C 5.40 -14.55 8.60 -15.15 10.40 -15.15 C 15.20 -15.15 17.00 -12.68 17.00 -8.18 C 17.00 -3.68 15.20 -1.20 10.40 -1.20 C 8.60 -1.20 5.40 -1.80 3.20 -4.40"/></g>
<g transform="translate(374.07 391.94)" stroke="#484848" stroke-width="3.00" stroke-opacity="0.28" fill-opacity="0.28"><path d="M 0.2 -15.15 H 6.2"/><path d="M 11.4 -15.15 H 19.6"/><path d="M 3.4 -15.15 L 10.6 -0.80"/><path d="M 16.6 -15.15 L 7.4 5.80"/><path d="M 2.2 5.80 H 12.4"/></g>
<g transform="translate(374.07 391.94)" stroke="#484848" stroke-width="2.0"><path d="M 0.2 -15.15 H 6.2"/><path d="M 11.4 -15.15 H 19.6"/><path d="M 3.4 -15.15 L 10.6 -0.80"/><path d="M 16.6 -15.15 L 7.4 5.80"/><path d="M 2.2 5.80 H 12.4"/></g>
<g transform="translate(415.27 391.94)" stroke="#484848" stroke-width="3.00" stroke-opacity="0.28" fill-opacity="0.28"><path d="M 15.50 -21.6 C 11.00 -17.2 10.50 -11.9 10.50 -8.7 C 10.50 -5.5 11.00 -0.2 15.50 4.2"/></g>
<g transform="translate(415.27 391.94)" stroke="#484848" stroke-width="2.0"><path d="M 15.50 -21.6 C 11.00 -17.2 10.50 -11.9 10.50 -8.7 C 10.50 -5.5 11.00 -0.2 15.50 4.2"/></g>
<g transform="translate(437.82 391.94)" stroke="#484848" stroke-width="3.00" stroke-opacity="0.28" fill-opacity="0.28"><path d="M 7.80 -1.20 V -18.00 C 7.80 -20.80 9.80 -22.00 12.80 -22.00 H 18.40"/><path d="M 2.80 -15.15 H 15.60"/><path d="M 2.60 -1.20 H 16.40"/></g>
<g transform="translate(437.82 391.94)" stroke="#484848" stroke-width="2.0"><path d="M 7.80 -1.20 V -18.00 C 7.80 -20.80 9.80 -22.00 12.80 -22.00 H 18.40"/><path d="M 2.80 -15.15 H 15.60"/><path d="M 2.60 -1.20 H 16.40"/></g>
<g transform="translate(459.07 391.94)" stroke="#484848" stroke-width="3.00" stroke-opacity="0.28" fill-opacity="0.28"><path d="M 5.20 -15.15 H 10.60 V -1.20"/><path d="M 3.20 -1.20 H 18.00"/><path d="M 8.90 -23.20 H 11.90 V -20.00 H 8.90 Z" fill="#484848" stroke="none"/></g>
<g transform="translate(459.07 391.94)" stroke="#484848" stroke-width="2.0"><path d="M 5.20 -15.15 H 10.60 V -1.20"/><path d="M 3.20 -1.20 H 18.00"/><path d="M 8.90 -23.20 H 11.90 V -20.00 H 8.90 Z" fill="#484848" stroke="none"/></g>
<g transform="translate(480.32 391.94)" stroke="#484848" stroke-width="3.00" stroke-opacity="0.28" fill-opacity="0.28"><path d="M 4.80 -22.00 H 10.60 V -1.20"/><path d="M 2.80 -1.20 H 18.00"/></g>
<g transform="translate(480.32 391.94)" stroke="#484848" stroke-width="2.0"><path d="M 4.80 -22.00 H 10.60 V -1.20"/><path d="M 2.80 -1.20 H 18.00"/></g>
<g transform="translate(500.38 391.94)" stroke="#484848" stroke-width="3.00" stroke-opacity="0.28" fill-opacity="0.28"><path d="M 2.60 -8.40 H 17.40 C 17.40 -12.95 13.50 -15.15 10.00 -15.15 C 5.20 -15.15 2.60 -11.65 2.60 -8.40 C 2.60 -4.40 5.40 -1.20 10.40 -1.20 C 13.60 -1.20 16.20 -2.40 17.60 -3.60"/></g>
<g transform="translate(500.38 391.94)" stroke="#484848" stroke-width="2.0"><path d="M 2.60 -8.40 H 17.40 C 17.40 -12.95 13.50 -15.15 10.00 -15.15 C 5.20 -15.15 2.60 -11.65 2.60 -8.40 C 2.60 -4.40 5.40 -1.20 10.40 -1.20 C 13.60 -1.20 16.20 -2.40 17.60 -3.60"/></g>
<g transform="translate(521.03 391.94)" stroke="#484848" stroke-width="3.00" stroke-opacity="0.28" fill-opacity="0.28"><path d="M 4.85 -21.6 C 9.35 -17.2 9.85 -11.9 9.85 -8.7 C 9.85 -5.5 9.35 -0.2 4.85 4.2"/></g>
<g transform="translate(521.03 391.94)" stroke="#484848" stroke-width="2.0"><path d="M 4.85 -21.6 C 9.35 -17.2 9.85 -11.9 9.85 -8.7 C 9.85 -5.5 9.35 -0.2 4.85 4.2"/></g>
<g transform="translate(76.28 483.80)" stroke="#484848" stroke-width="3.00" stroke-opacity="0.28" fill-opacity="0.28"><path d="M -0.2 -15.15 H 3.40 V -1.20"/><path d="M 3.40 -11.15 C 4.60 -13.95 6.00 -15.15 7.50 -15.15 C 9.70 -15.15 11.00 -13.95 11.00 -11.65 V -1.20"/><path d="M 11.00 -11.15 C 12.20 -13.95 13.60 -15.15 15.20 -15.15 C 17.50 -15.15 18.80 -13.95 18.80 -11.65 V -1.20"/><path d="M -0.4 -1.20 H 6.80"/><path d="M 16.00 -1.20 H 21.50"/></g>
<g transform="translate(76.28 483.80)" stroke="#484848" stroke-width="2.0"><path d="M -0.2 -15.15 H 3.40 V -1.20"/><path d="M 3.40 -11.15 C 4.60 -13.95 6.00 -15.15 7.50 -15.15 C 9.70 -15.15 11.00 -13.95 11.00 -11.65 V -1.20"/><path d="M 11.00 -11.15 C 12.20 -13.95 13.60 -15.15 15.20 -15.15 C 17.50 -15.15 18.80 -13.95 18.80 -11.65 V -1.20"/><path d="M -0.4 -1.20 H 6.80"/><path d="M 16.00 -1.20 H 21.50"/></g>
<g transform="translate(97.53 483.80)" stroke="#484848" stroke-width="3.00" stroke-opacity="0.28" fill-opacity="0.28"><path d="M 17.60 -8.18 C 17.60 -4.32 14.47 -1.20 10.60 -1.20 C 6.73 -1.20 3.60 -4.32 3.60 -8.18 C 3.60 -12.03 6.73 -15.15 10.60 -15.15 C 14.47 -15.15 17.60 -12.03 17.60 -8.18 Z"/></g>
<g transform="translate(97.53 483.80)" stroke="#484848" stroke-width="2.0"><path d="M 17.60 -8.18 C 17.60 -4.32 14.47 -1.20 10.60 -1.20 C 6.73 -1.20 3.60 -4.32 3.60 -8.18 C 3.60 -12.03 6.73 -15.15 10.60 -15.15 C 14.47 -15.15 17.60 -12.03 17.60 -8.18 Z"/></g>
<g transform="translate(118.78 483.80)" stroke="#484848" stroke-width="3.00" stroke-opacity="0.28" fill-opacity="0.28"><path d="M 12.40 -22.00 H 16.80 V -1.20 H 20.80"/><path d="M 16.80 -11.95 C 14.60 -14.55 11.20 -15.15 9.40 -15.15 C 4.40 -15.15 2.60 -12.68 2.60 -8.18 C 2.60 -3.68 4.40 -1.20 9.40 -1.20 C 11.20 -1.20 14.60 -1.80 16.80 -4.40"/></g>
<g transform="translate(118.78 483.80)" stroke="#484848" stroke-width="2.0"><path d="M 12.40 -22.00 H 16.80 V -1.20 H 20.80"/><path d="M 16.80 -11.95 C 14.60 -14.55 11.20 -15.15 9.40 -15.15 C 4.40 -15.15 2.60 -12.68 2.60 -8.18 C 2.60 -3.68 4.40 -1.20 9.40 -1.20 C 11.20 -1.20 14.60 -1.80 16.80 -4.40"/></g>
<g transform="translate(140.03 483.80)" stroke="#484848" stroke-width="3.00" stroke-opacity="0.28" fill-opacity="0.28"><path d="M 1.00 -15.15 H 4.60 V -6.00 C 4.60 -2.80 6.60 -1.20 10.10 -1.20 C 12.90 -1.20 14.80 -2.60 15.60 -4.80"/><path d="M 11.20 -15.15 H 15.60 V -1.20 H 19.50"/></g>
<g transform="translate(140.03 483.80)" stroke="#484848" stroke-width="2.0"><path d="M 1.00 -15.15 H 4.60 V -6.00 C 4.60 -2.80 6.60 -1.20 10.10 -1.20 C 12.90 -1.20 14.80 -2.60 15.60 -4.80"/><path d="M 11.20 -15.15 H 15.60 V -1.20 H 19.50"/></g>
<g transform="translate(161.28 483.80)" stroke="#484848" stroke-width="3.00" stroke-opacity="0.28" fill-opacity="0.28"><path d="M 4.80 -22.00 H 10.60 V -1.20"/><path d="M 2.80 -1.20 H 18.00"/></g>
<g transform="translate(161.28 483.80)" stroke="#484848" stroke-width="2.0"><path d="M 4.80 -22.00 H 10.60 V -1.20"/><path d="M 2.80 -1.20 H 18.00"/></g>
<g transform="translate(182.53 483.80)" stroke="#484848" stroke-width="3.00" stroke-opacity="0.28" fill-opacity="0.28"><path d="M 2.60 -8.40 H 17.40 C 17.40 -12.95 13.50 -15.15 10.00 -15.15 C 5.20 -15.15 2.60 -11.65 2.60 -8.40 C 2.60 -4.40 5.40 -1.20 10.40 -1.20 C 13.60 -1.20 16.20 -2.40 17.60 -3.60"/></g>
<g transform="translate(182.53 483.80)" stroke="#484848" stroke-width="2.0"><path d="M 2.60 -8.40 H 17.40 C 17.40 -12.95 13.50 -15.15 10.00 -15.15 C 5.20 -15.15 2.60 -11.65 2.60 -8.40 C 2.60 -4.40 5.40 -1.20 10.40 -1.20 C 13.60 -1.20 16.20 -2.40 17.60 -3.60"/></g>
<g transform="translate(203.78 483.80)" stroke="#484848" stroke-width="3.00" stroke-opacity="0.28" fill-opacity="0.28"><path d="M -1.0 7.2 H 19.4"/></g>
<g transform="translate(203.78 483.80)" stroke="#484848" stroke-width="2.0"><path d="M -1.0 7.2 H 19.4"/></g>
<g transform="translate(225.03 483.80)" stroke="#484848" stroke-width="3.00" stroke-opacity="0.28" fill-opacity="0.28"><path d="M 4.40 -13.15 C 5.80 -14.85 7.80 -15.15 10.20 -15.15 C 13.20 -15.15 15.60 -13.55 15.60 -11.15 V -1.20 H 19.00"/><path d="M 15.60 -8.20 H 8.20 C 4.80 -8.20 3.20 -6.00 3.20 -4.40 C 3.20 -2.20 5.20 -1.20 7.80 -1.20 C 10.80 -1.20 14.20 -2.60 15.60 -4.00"/></g>
<g transform="translate(225.03 483.80)" stroke="#484848" stroke-width="2.0"><path d="M 4.40 -13.15 C 5.80 -14.85 7.80 -15.15 10.20 -15.15 C 13.20 -15.15 15.60 -13.55 15.60 -11.15 V -1.20 H 19.00"/><path d="M 15.60 -8.20 H 8.20 C 4.80 -8.20 3.20 -6.00 3.20 -4.40 C 3.20 -2.20 5.20 -1.20 7.80 -1.20 C 10.80 -1.20 14.20 -2.60 15.60 -4.00"/></g>
<g transform="translate(246.28 483.80)" stroke="#484848" stroke-width="3.00" stroke-opacity="0.28" fill-opacity="0.28"><path d="M 6.8 -4.6 H 10.6 V -0.8 H 6.8 Z" fill="#484848" stroke="none"/></g>
<g transform="translate(246.28 483.80)" stroke="#484848" stroke-width="2.0"><path d="M 6.8 -4.6 H 10.6 V -0.8 H 6.8 Z" fill="#484848" stroke="none"/></g>
<g transform="translate(267.52 483.80)" stroke="#484848" stroke-width="3.00" stroke-opacity="0.28" fill-opacity="0.28"><path d="M -0.4 -15.15 H 3.20 V 5.80"/><path d="M -0.80 5.80 H 9.20"/><path d="M 3.20 -11.95 C 5.40 -14.55 8.60 -15.15 10.40 -15.15 C 15.20 -15.15 17.00 -12.68 17.00 -8.18 C 17.00 -3.68 15.20 -1.20 10.40 -1.20 C 8.60 -1.20 5.40 -1.80 3.20 -4.40"/></g>
<g transform="translate(267.52 483.80)" stroke="#484848" stroke-width="2.0"><path d="M -0.4 -15.15 H 3.20 V 5.80"/><path d="M -0.80 5.80 H 9.20"/><path d="M 3.20 -11.95 C 5.40 -14.55 8.60 -15.15 10.40 -15.15 C 15.20 -15.15 17.00 -12.68 17.00 -8.18 C 17.00 -3.68 15.20 -1.20 10.40 -1.20 C 8.60 -1.20 5.40 -1.80 3.20 -4.40"/></g>
<g transform="translate(288.77 483.80)" stroke="#484848" stroke-width="3.00" stroke-opacity="0.28" fill-opacity="0.28"><path d="M 0.2 -15.15 H 6.2"/><path d="M 11.4 -15.15 H 19.6"/><path d="M 3.4 -15.15 L 10.6 -0.80"/><path d="M 16.6 -15.15 L 7.4 5.80"/><path d="M 2.2 5.80 H 12.4"/></g>
<g transform="translate(288.77 483.80)" stroke="#484848" stroke-width="2.0"><path d="M 0.2 -15.15 H 6.2"/><path d="M 11.4 -15.15 H 19.6"/><path d="M 3.4 -15.15 L 10.6 -0.80"/><path d="M 16.6 -15.15 L 7.4 5.80"/><path d="M 2.2 5.80 H 12.4"/></g>
<g transform="translate(329.97 483.80)" stroke="#484848" stroke-width="3.00" stroke-opacity="0.28" fill-opacity="0.28"><path d="M 15.50 -21.6 C 11.00 -17.2 10.50 -11.9 10.50 -8.7 C 10.50 -5.5 11.00 -0.2 15.50 4.2"/></g>
<g transform="translate(329.97 483.80)" stroke="#484848" stroke-width="2.0"><path d="M 15.50 -21.6 C 11.00 -17.2 10.50 -11.9 10.50 -8.7 C 10.50 -5.5 11.00 -0.2 15.50 4.2"/></g>
<g transform="translate(352.52 483.80)" stroke="#484848" stroke-width="3.00" stroke-opacity="0.28" fill-opacity="0.28"><path d="M 7.80 -1.20 V -18.00 C 7.80 -20.80 9.80 -22.00 12.80 -22.00 H 18.40"/><path d="M 2.80 -15.15 H 15.60"/><path d="M 2.60 -1.20 H 16.40"/></g>
<g transform="translate(352.52 483.80)" stroke="#484848" stroke-width="2.0"><path d="M 7.80 -1.20 V -18.00 C 7.80 -20.80 9.80 -22.00 12.80 -22.00 H 18.40"/><path d="M 2.80 -15.15 H 15.60"/><path d="M 2.60 -1.20 H 16.40"/></g>
<g transform="translate(373.77 483.80)" stroke="#484848" stroke-width="3.00" stroke-opacity="0.28" fill-opacity="0.28"><path d="M 5.20 -15.15 H 10.60 V -1.20"/><path d="M 3.20 -1.20 H 18.00"/><path d="M 8.90 -23.20 H 11.90 V -20.00 H 8.90 Z" fill="#484848" stroke="none"/></g>
<g transform="translate(373.77 483.80)" stroke="#484848" stroke-width="2.0"><path d="M 5.20 -15.15 H 10.60 V -1.20"/><path d="M 3.20 -1.20 H 18.00"/><path d="M 8.90 -23.20 H 11.90 V -20.00 H 8.90 Z" fill="#484848" stroke="none"/></g>
<g transform="translate(395.02 483.80)" stroke="#484848" stroke-width="3.00" stroke-opacity="0.28" fill-opacity="0.28"><path d="M 4.80 -22.00 H 10.60 V -1.20"/><path d="M 2.80 -1.20 H 18.00"/></g>
<g transform="translate(395.02 483.80)" stroke="#484848" stroke-width="2.0"><path d="M 4.80 -22.00 H 10.60 V -1.20"/><path d="M 2.80 -1.20 H 18.00"/></g>
<g transform="translate(415.07 483.80)" stroke="#484848" stroke-width="3.00" stroke-opacity="0.28" fill-opacity="0.28"><path d="M 2.60 -8.40 H 17.40 C 17.40 -12.95 13.50 -15.15 10.00 -15.15 C 5.20 -15.15 2.60 -11.65 2.60 -8.40 C 2.60 -4.40 5.40 -1.20 10.40 -1.20 C 13.60 -1.20 16.20 -2.40 17.60 -3.60"/></g>
<g transform="translate(415.07 483.80)" stroke="#484848" stroke-width="2.0"><path d="M 2.60 -8.40 H 17.40 C 17.40 -12.95 13.50 -15.15 10.00 -15.15 C 5.20 -15.15 2.60 -11.65 2.60 -8.40 C 2.60 -4.40 5.40 -1.20 10.40 -1.20 C 13.60 -1.20 16.20 -2.40 17.60 -3.60"/></g>
<g transform="translate(435.72 483.80)" stroke="#484848" stroke-width="3.00" stroke-opacity="0.28" fill-opacity="0.28"><path d="M 4.85 -21.6 C 9.35 -17.2 9.85 -11.9 9.85 -8.7 C 9.85 -5.5 9.35 -0.2 4.85 4.2"/></g>
<g transform="translate(435.72 483.80)" stroke="#484848" stroke-width="2.0"><path d="M 4.85 -21.6 C 9.35 -17.2 9.85 -11.9 9.85 -8.7 C 9.85 -5.5 9.35 -0.2 4.85 4.2"/></g>
</svg>
</body></html>
